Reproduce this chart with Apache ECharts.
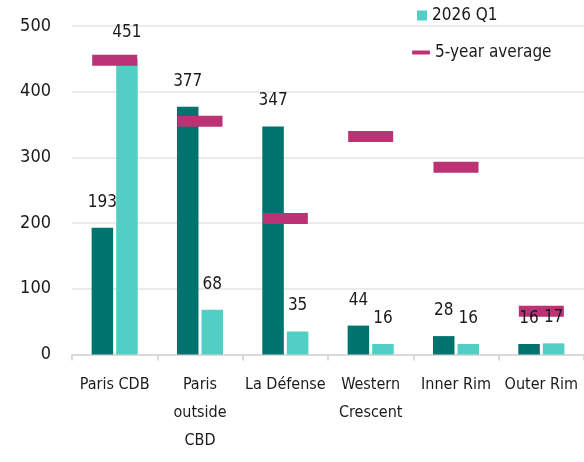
<!DOCTYPE html>
<html>
<head>
<meta charset="utf-8">
<script src="https://cdn.jsdelivr.net/npm/echarts@6/dist/echarts.min.js"></script>
<style>
	html, body { margin: 0; padding: 0; background: #fff; }
	#chart { width: 584px; height: 462px; }
</style>
</head>
<body>
<div id="chart"></div>
<script>
// data
const categories = ['Paris CDB', 'Paris\noutside\nCBD', 'La Défense', 'Western\nCrescent', 'Inner Rim', 'Outer Rim'];
const prevValues = [193, 377, 347, 44, 28, 16];
const q1Values = [451, 68, 35, 16, 16, 17];
const avgValues = [448, 355, 207, 332, 285, 66];
const yTicks = [0, 100, 200, 300, 400, 500];

const font = "'Liberation Sans Narrow', 'DejaVu Sans Condensed', sans-serif";
const dark = '#00736f';
const light = '#52cfc4';
const magenta = '#bb3275';

let myChart = echarts.init(document.getElementById('chart'));

// labels sit on zero-height bars stacked on top of the real ones,
// so they can be drawn above the 5-year average markers
function labelSeries(stack, values) {
	return {
		type: 'bar',
		stack: stack,
		data: values.map(() => 0),
		itemStyle: { color: 'transparent' },
		label: {
			show: true,
			position: 'top',
			distance: 17,
			color: '#1a1a1a',
			fontFamily: font,
			fontSize: 17,
			formatter: (p) => values[p.dataIndex],
		},
		silent: true,
		z: 4,
	};
}

let option = {
	animation: false,
	textStyle: { fontFamily: font },
	grid: { left: 72, right: -6, top: 26, bottom: 107.5, containLabel: false },
	legend: [
		{
			data: ['2026 Q1'],
			left: 417,
			top: 7,
			padding: 0,
			icon: 'rect',
			itemWidth: 10,
			itemHeight: 10,
			textStyle: { fontFamily: font, fontSize: 17, color: '#1a1a1a' },
		},
		{
			data: ['5-year average'],
			left: 412,
			top: 44,
			padding: 0,
			icon: 'roundRect',
			itemWidth: 18,
			itemHeight: 4,
			textStyle: { fontFamily: font, fontSize: 17, color: '#1a1a1a' },
		},
	],
	xAxis: {
		type: 'category',
		data: categories,
		axisLine: { lineStyle: { color: '#d9d9d9', width: 2 } },
		axisTick: { show: true, length: 6, lineStyle: { color: '#d9d9d9', width: 2 } },
		axisLabel: {
			interval: 0,
			margin: 16,
			color: '#1a1a1a',
			fontFamily: font,
			fontSize: 16,
			lineHeight: 28,
		},
	},
	yAxis: {
		type: 'value',
		min: yTicks[0],
		max: yTicks[yTicks.length - 1],
		interval: 100,
		axisLine: { show: false },
		axisTick: { show: false },
		axisLabel: { margin: 21, color: '#1a1a1a', fontFamily: font, fontSize: 18 },
		splitLine: { lineStyle: { color: '#ebebeb', width: 2 } },
	},
	series: [
		{
			name: '2025 Q1',
			type: 'bar',
			stack: 'prev',
			data: prevValues,
			itemStyle: { color: dark },
			barCategoryGap: '46%',
			barGap: '14%',
			z: 2,
		},
		{
			name: '2026 Q1',
			type: 'bar',
			stack: 'q1',
			data: q1Values,
			itemStyle: { color: light },
			z: 2,
		},
		labelSeries('prev', prevValues),
		labelSeries('q1', q1Values),
		{
			name: '5-year average',
			type: 'scatter',
			data: avgValues,
			symbol: 'rect',
			symbolSize: [45, 11],
			itemStyle: { color: magenta, opacity: 1 },
			z: 3,
		},
	],
};

myChart.setOption(option);
</script>
</body>
</html>
